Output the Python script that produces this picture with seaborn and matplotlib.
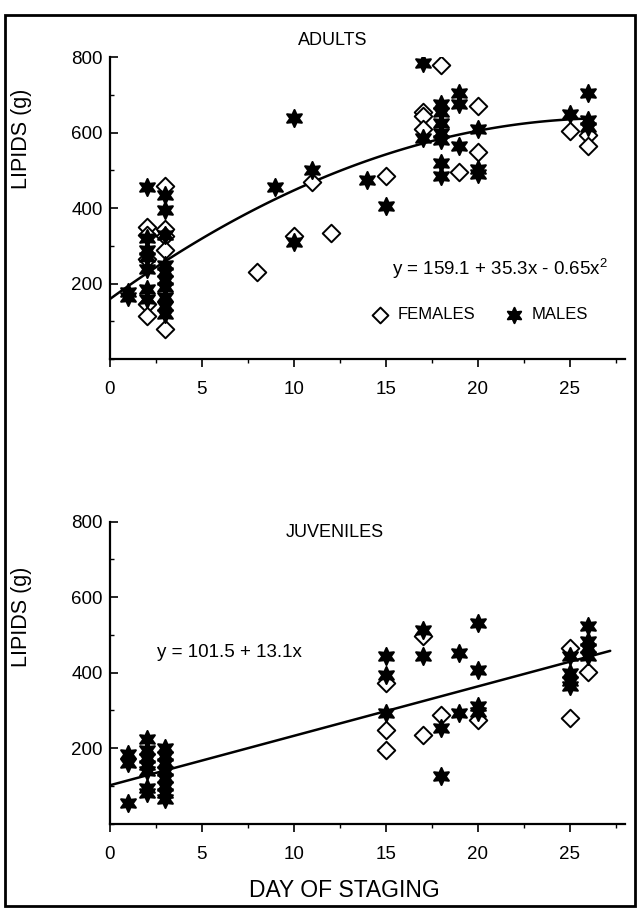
import numpy as np
import pandas as pd
import seaborn as sns
import matplotlib.pyplot as plt
from matplotlib.patches import Rectangle
from matplotlib.ticker import MultipleLocator

# adults: day of staging and lipids (g)
ad_f_day = [2, 2, 2, 2, 2, 3, 3, 3, 3, 3, 8, 10, 11, 12, 15, 17, 17, 17, 18, 19, 20, 20, 25, 26, 26]
ad_f_lip = [350, 330, 265, 145, 115, 460, 345, 325, 290, 80, 230, 325, 470, 335, 485,
            655, 645, 610, 780, 495, 670, 550, 605, 595, 565]
ad_m_day = [1, 1, 2, 2, 2, 2, 2, 2, 2, 3, 3, 3, 3, 3, 3, 3, 3, 3, 3,
            9, 10, 10, 11, 14, 15, 17, 17, 18, 18, 18, 18, 18, 18, 18,
            19, 19, 19, 20, 20, 20, 25, 26, 26, 26]
ad_m_lip = [165, 178, 455, 320, 290, 270, 240, 185, 160, 435, 395, 330, 250, 230, 210, 190, 165, 140, 120,
            455, 640, 310, 500, 475, 405, 785, 585, 675, 655, 625, 600, 580, 520, 485,
            705, 675, 565, 610, 505, 490, 650, 705, 635, 615]

# juveniles
ju_f_day = [15, 15, 15, 17, 17, 18, 20, 25, 25, 26]
ju_f_lip = [373, 249, 196, 496, 236, 289, 275, 465, 280, 403]
ju_m_day = [1, 1, 1, 2, 2, 2, 2, 2, 2, 2, 3, 3, 3, 3, 3, 3, 3, 3,
            15, 15, 15, 17, 17, 18, 18, 19, 19, 20, 20, 20, 20,
            25, 25, 25, 25, 26, 26, 26, 26]
ju_m_lip = [185, 160, 55, 225, 195, 175, 155, 140, 95, 80, 200, 180, 160, 140, 120, 100, 80, 65,
            443, 395, 293, 514, 443, 253, 125, 452, 293, 532, 408, 311, 297,
            443, 399, 377, 365, 523, 485, 465, 445]

# regression coefficients printed on the chart
ad_coef = (159.1, 35.3, -0.65)
ju_coef = (101.5, 13.1)


def make_df(day, lip, sex):
    return pd.DataFrame({"day": day, "lipids": lip, "sex": sex})


df_ad = pd.concat([make_df(ad_f_day, ad_f_lip, "FEMALES"), make_df(ad_m_day, ad_m_lip, "MALES")])
df_ju = pd.concat([make_df(ju_f_day, ju_f_lip, "FEMALES"), make_df(ju_m_day, ju_m_lip, "MALES")])

sns.set_style("ticks")
plt.rcParams["font.family"] = ["Liberation Sans", "DejaVu Sans"]
plt.rcParams["mathtext.fontset"] = "custom"
plt.rcParams["mathtext.rm"] = "Liberation Sans"
for key in ("text.color", "axes.labelcolor", "xtick.color", "ytick.color", "axes.edgecolor"):
    plt.rcParams[key] = "black"

star = (6, 1, 0)

fig = plt.figure(figsize=(6.39, 9.09), dpi=100)
fig.patches.append(Rectangle((0.008, 0.003), 0.986, 0.98, transform=fig.transFigure,
                             fill=False, edgecolor="black", linewidth=2))
ax1 = fig.add_axes([0.172, 0.605, 0.806, 0.332])
ax2 = fig.add_axes([0.172, 0.094, 0.806, 0.332])


def draw_panel(ax, df, fit_x, fit_y):
    f = df[df["sex"] == "FEMALES"]
    m = df[df["sex"] == "MALES"]
    sns.scatterplot(data=f, x="day", y="lipids", marker="D", s=80, color="white",
                    edgecolor="black", linewidth=1.4, ax=ax, label="FEMALES", zorder=3)
    sns.scatterplot(data=m, x="day", y="lipids", marker=star, s=150, color="black",
                    edgecolor="black", linewidth=1.5, ax=ax, label="MALES", zorder=4)
    sns.lineplot(x=fit_x, y=fit_y, color="black", linewidth=1.8, ax=ax, zorder=2)
    ax.set_xlim(0, 28)
    ax.set_ylim(0, 800)
    ax.xaxis.set_major_locator(MultipleLocator(5))
    ax.xaxis.set_minor_locator(MultipleLocator(2.5))
    ax.yaxis.set_major_locator(MultipleLocator(200))
    ax.yaxis.set_minor_locator(MultipleLocator(100))
    ax.set_yticks([200, 400, 600, 800])
    ax.tick_params(axis="x", which="major", direction="out", length=6, width=1.2, pad=10, labelsize=13.5)
    ax.tick_params(axis="x", which="minor", direction="out", length=3, width=1)
    ax.tick_params(axis="y", which="major", direction="in", length=6, width=1.2, pad=5, labelsize=13.5)
    ax.tick_params(axis="y", which="minor", direction="in", length=3, width=1)
    sns.despine(ax=ax)
    for sp in ("left", "bottom"):
        ax.spines[sp].set_linewidth(1.6)
    ax.set_xlabel("")
    ax.set_ylabel("LIPIDS (g)", fontsize=15.5)


x_ad = np.linspace(0, 26, 100)
y_ad = ad_coef[0] + ad_coef[1] * x_ad + ad_coef[2] * x_ad ** 2
x_ju = np.linspace(0, 27.2, 50)
y_ju = ju_coef[0] + ju_coef[1] * x_ju

draw_panel(ax1, df_ad, x_ad, y_ad)
draw_panel(ax2, df_ju, x_ju, y_ju)

ax1.yaxis.set_label_coords(-0.152, 0.73)
ax2.yaxis.set_label_coords(-0.152, 0.685)

ax1.legend(loc="center", bbox_to_anchor=(0.71, 0.146), ncol=2, frameon=False, fontsize=12,
           handletextpad=0.05, columnspacing=1.3, markerscale=0.9)
ax2.get_legend().remove()

ax1.text(0.433, 1.056, "ADULTS", transform=ax1.transAxes, ha="center", va="center", fontsize=13)
ax2.text(0.437, 0.964, "JUVENILES", transform=ax2.transAxes, ha="center", va="center", fontsize=13)
ax1.text(0.757, 0.30, "y = 159.1 + 35.3x - 0.65x$^2$", transform=ax1.transAxes,
         ha="center", va="center", fontsize=13.5)
ax2.text(0.233, 0.566, "y = 101.5 + 13.1x", transform=ax2.transAxes,
         ha="center", va="center", fontsize=13.5)
ax2.set_xlabel("DAY OF STAGING", fontsize=16.5)
ax2.xaxis.set_label_coords(0.456, -0.185)

fig.savefig("out.png", dpi=100)
